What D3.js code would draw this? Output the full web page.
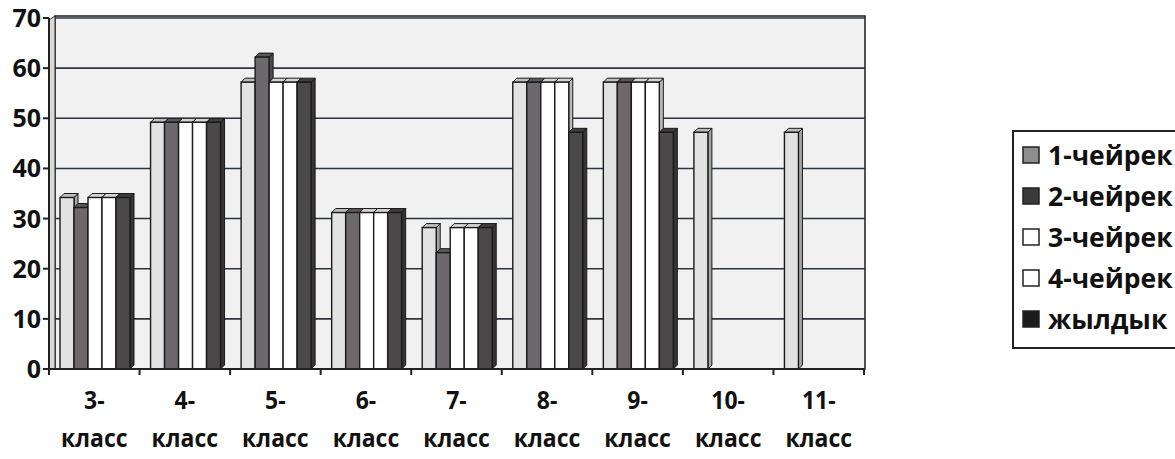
<!DOCTYPE html>
<html>
<head>
<meta charset="utf-8">
<script src="https://cdn.jsdelivr.net/npm/d3@7/dist/d3.min.js"></script>
<style>
  html, body { margin: 0; padding: 0; background: #ffffff; }
  svg { display: block; }
  text { font-family: "Open Sans", "Noto Sans", sans-serif; font-weight: bold; fill: #111; }
</style>
</head>
<body>
<svg id="chart" width="1175" height="459"></svg>
<script>
// ---- data ----
const categories = ["3-класс", "4-класс", "5-класс", "6-класс", "7-класс", "8-класс", "9-класс", "10-класс", "11-класс"];
const seriesNames = ["1-чейрек", "2-чейрек", "3-чейрек", "4-чейрек", "жылдык"];
const q1Values   = [35, 50, 58, 32, 29, 58, 58, 48, 48];
const q2Values   = [33, 50, 63, 32, 24, 58, 58, null, null];
const q3Values   = [35, 50, 58, 32, 29, 58, 58, null, null];
const q4Values   = [35, 50, 58, 32, 29, 58, 58, null, null];
const yearValues = [35, 50, 58, 32, 29, 48, 48, null, null];
const yTicks = [0, 10, 20, 30, 40, 50, 60, 70];

// ---- styles ----
const barFill    = ["#e2e2e2", "#6c686c", "#ffffff", "#ffffff", "#4a4849"];
const legendFill = ["#8e8e8e", "#3a3a3a", "#ffffff", "#ffffff", "#1c1c1c"];

const seriesValues = [q1Values, q2Values, q3Values, q4Values, yearValues];

const svg = d3.select("#chart");
const y = d3.scaleLinear().domain([0, 70]).range([369, 18]);
const x = d3.scaleBand().domain(categories).range([49, 864]).padding(0);
const inner = d3.scaleBand().domain(seriesNames).range([11, 81]).padding(0);
const depth = 4;

// back wall
const wallL = 55, wallR = 865, wallT = 16, wallB = 369;
svg.append("rect").attr("x", wallL).attr("y", wallT).attr("width", wallR - wallL).attr("height", wallB - wallT)
  .attr("fill", "#f1f1f1").attr("stroke", "#2a2a2a").attr("stroke-width", 1.6);
svg.append("path")
  .attr("d", `M49,${y(70)+2} L${wallL},${wallT} L${wallL},${wallB} L49,369 Z`)
  .attr("fill", "#d9d9d9").attr("stroke", "#2a2a2a").attr("stroke-width", 1);

// gridlines
svg.append("g").selectAll("line").data(yTicks.filter(t => t > 0)).join("line")
  .attr("x1", wallL).attr("x2", wallR)
  .attr("y1", d => y(d)).attr("y2", d => y(d))
  .attr("stroke", "#2b3440").attr("stroke-width", 1.6);

// bars (pseudo-3D)
const barData = [];
seriesValues.forEach((vals, si) => {
  vals.forEach((v, ci) => {
    if (v !== null) barData.push({ s: seriesNames[si], si, c: categories[ci], v });
  });
});
const bw = inner.bandwidth();
const gBars = svg.append("g");
barData.forEach(d => {
  const x0 = x(d.c) + inner(d.s);
  const yt = y(d.v) + depth;
  const yb = y(0);
  const base = d3.color(barFill[d.si]);
  gBars.append("path")
    .attr("d", `M${x0+bw},${yt} L${x0+bw+depth},${yt-depth} L${x0+bw+depth},${yb-depth} L${x0+bw},${yb} Z`)
    .attr("fill", base.darker(0.9)).attr("stroke", "#1a1a1a").attr("stroke-width", 1);
  gBars.append("path")
    .attr("d", `M${x0},${yt} L${x0+depth},${yt-depth} L${x0+bw+depth},${yt-depth} L${x0+bw},${yt} Z`)
    .attr("fill", base.darker(0.5)).attr("stroke", "#1a1a1a").attr("stroke-width", 1);
  gBars.append("rect")
    .attr("x", x0).attr("y", yt).attr("width", bw).attr("height", yb - yt)
    .attr("fill", barFill[d.si]).attr("stroke", "#1a1a1a").attr("stroke-width", 1.4);
});

// y axis
const yAxisG = svg.append("g");
yAxisG.append("line").attr("x1", 49).attr("x2", 49).attr("y1", y(70)).attr("y2", y(0))
  .attr("stroke", "#222").attr("stroke-width", 2);
yAxisG.selectAll("line.tick").data(yTicks).join("line").attr("class", "tick")
  .attr("x1", 43).attr("x2", 49).attr("y1", d => y(d)).attr("y2", d => y(d))
  .attr("stroke", "#222").attr("stroke-width", 2);
yAxisG.selectAll("text").data(yTicks).join("text")
  .attr("x", 41).attr("y", d => y(d)).attr("dy", "0.36em")
  .attr("text-anchor", "end").attr("font-size", 25).text(d => d);

// x axis
const xAxisG = svg.append("g");
xAxisG.append("line").attr("x1", 49).attr("x2", 864).attr("y1", y(0)).attr("y2", y(0))
  .attr("stroke", "#222").attr("stroke-width", 2);
const bounds = categories.map(c => x(c)).concat([x.range()[1]]);
xAxisG.selectAll("line.tick").data(bounds).join("line").attr("class", "tick")
  .attr("x1", d => d).attr("x2", d => d).attr("y1", y(0)).attr("y2", y(0) + 6)
  .attr("stroke", "#222").attr("stroke-width", 2);
const lbl = xAxisG.selectAll("text").data(categories).join("text")
  .attr("text-anchor", "middle").attr("font-size", 23)
  .attr("transform", d => `translate(${x(d) + x.bandwidth() / 2},0) scale(1,1.12)`);
lbl.append("tspan").attr("x", 0).attr("y", 409 / 1.12).text(d => d.slice(0, d.indexOf("-") + 1));
lbl.append("tspan").attr("x", 0).attr("y", 447 / 1.12).text(d => d.slice(d.indexOf("-") + 1));

// legend
const lg = svg.append("g");
lg.append("rect").attr("x", 1013).attr("y", 131).attr("width", 200).attr("height", 217)
  .attr("fill", "#ffffff").attr("stroke", "#222").attr("stroke-width", 2);
const li = lg.selectAll("g.item").data(seriesNames).join("g").attr("class", "item")
  .attr("transform", (d, i) => `translate(1023,${155 + i * 41})`);
li.append("rect").attr("x", 0).attr("y", -8).attr("width", 16).attr("height", 16)
  .attr("fill", (d, i) => legendFill[i]).attr("stroke", "#222").attr("stroke-width", 1.5);
li.append("text").attr("x", 25).attr("dy", "0.36em").attr("font-size", 26.5).text(d => d);
</script>
</body>
</html>
